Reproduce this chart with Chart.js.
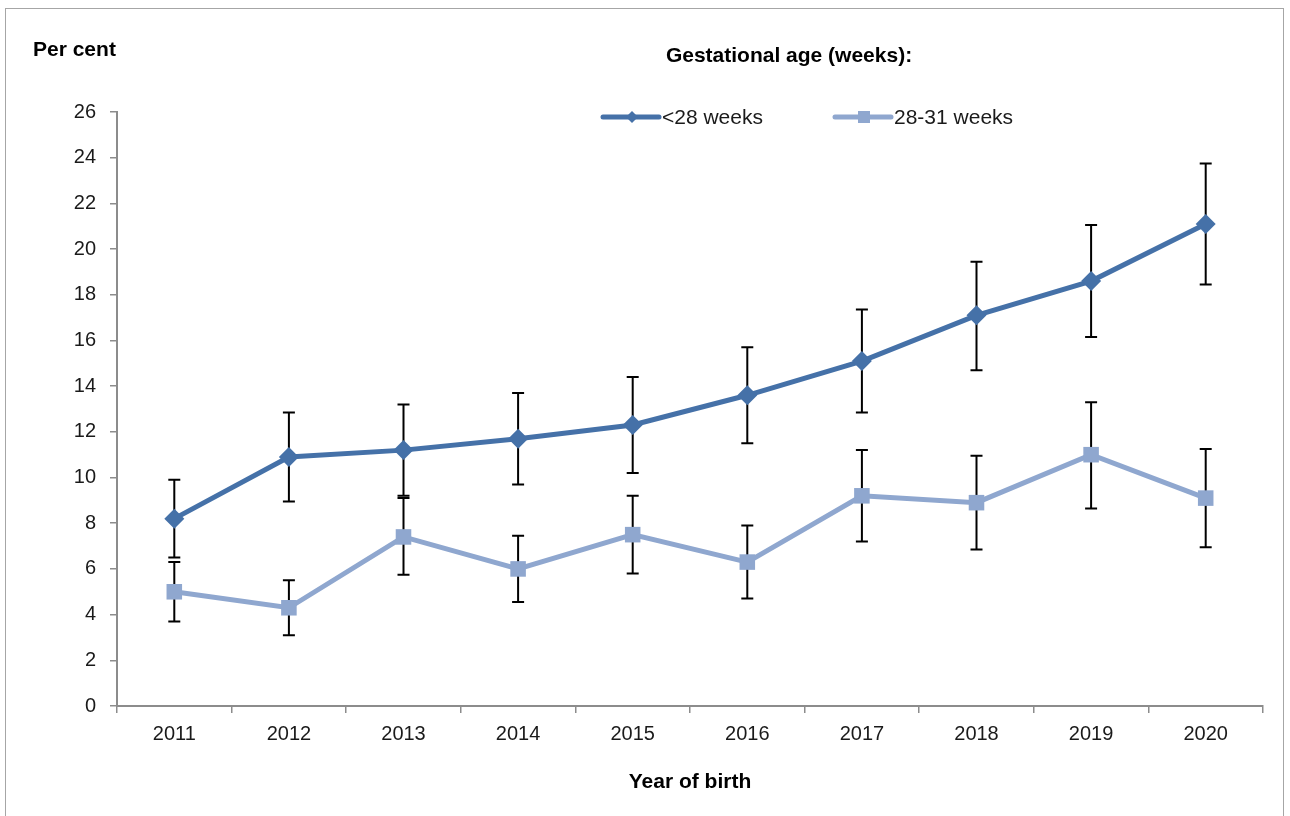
<!DOCTYPE html>
<html>
<head>
<meta charset="utf-8">
<script src="https://cdn.jsdelivr.net/npm/chart.js@4"></script>
<style>
    body { margin: 0; background: #fff; }
    #wrap { position: relative; width: 1290px; height: 816px; }
    #frame { position: absolute; left: 5px; top: 8px; width: 1279px; height: 820px; border: 1px solid #a6a6a6; box-sizing: border-box; }
    canvas { position: absolute; left: 0; top: 0; }
</style>
</head>
<body>
<div id="wrap">
    <div id="frame"></div>
    <canvas id="chart" width="1290" height="816"></canvas>
</div>
<script>
// Data
const years = ['2011', '2012', '2013', '2014', '2015', '2016', '2017', '2018', '2019', '2020'];

const under28 = [8.2, 10.9, 11.2, 11.7, 12.3, 13.6, 15.1, 17.1, 18.6, 21.1];
const under28Low = [6.5, 8.95, 9.2, 9.7, 10.2, 11.5, 12.85, 14.7, 16.15, 18.45];
const under28High = [9.9, 12.85, 13.2, 13.7, 14.4, 15.7, 17.35, 19.45, 21.05, 23.75];

const weeks28to31 = [5.0, 4.3, 7.4, 6.0, 7.5, 6.3, 9.2, 8.9, 11.0, 9.1];
const weeks28to31Low = [3.7, 3.1, 5.75, 4.55, 5.8, 4.7, 7.2, 6.85, 8.65, 6.95];
const weeks28to31High = [6.3, 5.5, 9.1, 7.45, 9.2, 7.9, 11.2, 10.95, 13.3, 11.25];

const FONT = '"Liberation Sans", Arial, sans-serif';
const DARK = '#4571a8';
const LIGHT = '#8fa7cf';

// error bars, drawn behind the lines
const errorBars = {
    id: 'errorBars',
    beforeDatasetsDraw(chart) {
        const ctx = chart.ctx;
        const y = chart.scales.y;
        ctx.save();
        ctx.strokeStyle = '#000';
        ctx.lineWidth = 2;
        chart.data.datasets.forEach((ds, i) => {
            const meta = chart.getDatasetMeta(i);
            meta.data.forEach((pt, j) => {
                const top = y.getPixelForValue(ds.errHigh[j]);
                const bottom = y.getPixelForValue(ds.errLow[j]);
                ctx.beginPath();
                ctx.moveTo(pt.x, top);
                ctx.lineTo(pt.x, bottom);
                ctx.moveTo(pt.x - 6, top);
                ctx.lineTo(pt.x + 6, top);
                ctx.moveTo(pt.x - 6, bottom);
                ctx.lineTo(pt.x + 6, bottom);
                ctx.stroke();
            });
        });
        ctx.restore();
    }
};

// titles and legend
const labels = {
    id: 'labels',
    afterDraw(chart) {
        const ctx = chart.ctx;
        ctx.save();
        ctx.fillStyle = '#000';
        ctx.textBaseline = 'middle';
        ctx.font = 'bold 21px ' + FONT;
        ctx.textAlign = 'left';
        ctx.fillText('Per cent', 33, 50);
        ctx.textAlign = 'center';
        ctx.fillText('Gestational age (weeks):', 789, 56);
        ctx.fillText('Year of birth', 690, 782);

        // legend
        const items = [
            { x: 603, ds: chart.data.datasets[0] },
            { x: 835, ds: chart.data.datasets[1] }
        ];
        const ly = 117;
        items.forEach(it => {
            ctx.strokeStyle = it.ds.borderColor;
            ctx.fillStyle = it.ds.borderColor;
            ctx.lineWidth = 5;
            ctx.lineCap = 'round';
            ctx.beginPath();
            ctx.moveTo(it.x, ly);
            ctx.lineTo(it.x + 56, ly);
            ctx.stroke();
            const cx = it.x + 29;
            ctx.beginPath();
            if (it.ds.pointStyle === 'rectRot') {
                ctx.moveTo(cx - 6, ly);
                ctx.lineTo(cx, ly - 6);
                ctx.lineTo(cx + 6, ly);
                ctx.lineTo(cx, ly + 6);
                ctx.closePath();
            } else {
                ctx.rect(cx - 6, ly - 6, 12, 12);
            }
            ctx.fill();
            ctx.fillStyle = '#1a1a1a';
            ctx.font = '21px ' + FONT;
            ctx.textAlign = 'left';
            ctx.fillText(it.ds.label, it.x + 59, ly + 1);
        });
        ctx.restore();
    }
};

new Chart(document.getElementById('chart'), {
    type: 'line',
    data: {
        labels: years,
        datasets: [
            {
                label: '<28 weeks',
                data: under28,
                errLow: under28Low,
                errHigh: under28High,
                borderColor: DARK,
                backgroundColor: DARK,
                borderWidth: 5,
                pointStyle: 'rectRot',
                pointRadius: 10,
                pointBorderWidth: 0,
                tension: 0
            },
            {
                label: '28-31 weeks',
                data: weeks28to31,
                errLow: weeks28to31Low,
                errHigh: weeks28to31High,
                borderColor: LIGHT,
                backgroundColor: LIGHT,
                borderWidth: 5,
                pointStyle: 'rect',
                pointRadius: 11,
                pointBorderWidth: 0,
                tension: 0
            }
        ]
    },
    options: {
        responsive: false,
        animation: false,
        layout: { padding: { left: 0, right: 27, top: 112, bottom: 0 } },
        plugins: {
            legend: { display: false },
            tooltip: { enabled: false }
        },
        scales: {
            x: {
                offset: true,
                afterFit(scale) { scale.height = 110; },
                border: { color: '#8c8c8c', width: 2 },
                grid: { offset: true, drawOnChartArea: false, drawTicks: true, tickLength: 7, color: '#8c8c8c', lineWidth: 1.5 },
                ticks: { color: '#1a1a1a', font: { family: FONT, size: 20 }, padding: 9, maxRotation: 0 }
            },
            y: {
                min: 0,
                max: 26,
                afterFit(scale) { scale.width = 117; },
                border: { color: '#8c8c8c', width: 2 },
                grid: { drawOnChartArea: false, drawTicks: true, tickLength: 7, color: '#8c8c8c', lineWidth: 1.5 },
                ticks: { stepSize: 2, color: '#1a1a1a', font: { family: FONT, size: 20 }, padding: 14 }
            }
        }
    },
    plugins: [errorBars, labels]
});
</script>
</body>
</html>
